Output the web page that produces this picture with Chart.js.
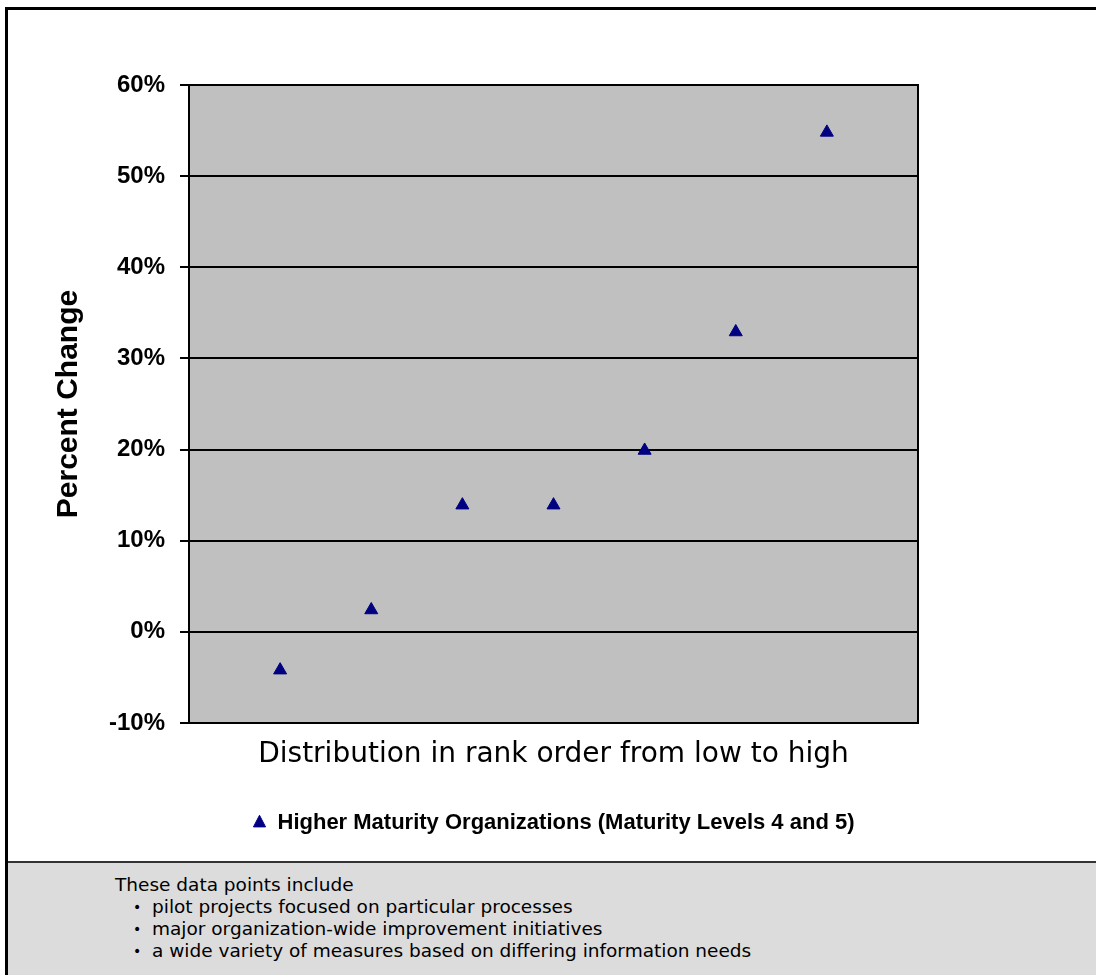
<!DOCTYPE html>
<html>
<head>
<meta charset="utf-8">
<script src="https://cdn.jsdelivr.net/npm/chart.js@4.4.1/dist/chart.umd.min.js"></script>
<style>
  html, body { margin: 0; padding: 0; background: #ffffff; }
  body { width: 1096px; height: 975px; position: relative; overflow: hidden; }
  #frame { position: absolute; left: 5px; top: 7px; width: 1091px; height: 968px;
           border-top: 3px solid #000; border-left: 3px solid #000; box-sizing: border-box; }
  #wrap { position: absolute; left: 0; top: 0; width: 1096px; height: 862px; }
  #note { position: absolute; left: 8px; top: 861px; width: 1088px; height: 114px;
          background: #dcdcdc; border-top: 2px solid #333; box-sizing: border-box;
          font-family: "DejaVu Sans", Verdana, sans-serif; font-size: 18.5px; color: #000; }
  .ln { position: absolute; height: 22px; line-height: 22px; white-space: nowrap; }
  .bul { position: absolute; left: 125px; font-size: 14px; }
  .txt { position: absolute; left: 144px; }
</style>
</head>
<body>
<div id="frame"></div>
<div id="wrap"><canvas id="c" width="1096" height="862"></canvas></div>
<div id="note">
  <div class="ln" style="left:107px; top:11px;">These data points include</div>
  <div class="ln" style="left:0; top:33px; width:1000px;"><span class="bul">•</span><span class="txt">pilot projects focused on particular processes</span></div>
  <div class="ln" style="left:0; top:55px; width:1000px;"><span class="bul">•</span><span class="txt">major organization-wide improvement initiatives</span></div>
  <div class="ln" style="left:0; top:77px; width:1000px;"><span class="bul">•</span><span class="txt">a wide variety of measures based on differing information needs</span></div>
</div>
<script>
// ---- data ----
const ranks = [1, 2, 3, 4, 5, 6, 7];
const percentChange = [-4.2, 2.4, 13.9, 13.9, 19.9, 32.9, 54.8];
const seriesLabel = 'Higher Maturity Organizations (Maturity Levels 4 and 5)';
const yTickMin = -10;
const yTickMax = 60;
const yTickStep = 10;
const xTitle = 'Distribution in rank order from low to high';
const yTitle = 'Percent Change';

const points = ranks.map((r, i) => ({ x: r, y: percentChange[i] }));

const plotBg = {
  id: 'plotBg',
  beforeDraw(chart) {
    const { ctx, chartArea: a } = chart;
    ctx.save();
    ctx.fillStyle = '#c0c0c0';
    ctx.fillRect(a.left, a.top, a.right - a.left, a.bottom - a.top);
    ctx.restore();
  },
  beforeDatasetsDraw(chart) {
    const { ctx, chartArea: a } = chart;
    ctx.save();
    ctx.strokeStyle = '#000';
    ctx.lineWidth = 2;
    ctx.strokeRect(a.left, a.top, a.right - a.left, a.bottom - a.top);
    ctx.restore();
  }
};

new Chart(document.getElementById('c'), {
  type: 'scatter',
  data: {
    datasets: [{
      label: seriesLabel,
      data: points,
      pointStyle: 'triangle',
      pointRadius: 7.5,
      pointHoverRadius: 7.5,
      pointBorderWidth: 1,
      backgroundColor: '#000080',
      borderColor: '#000080'
    }]
  },
  options: {
    responsive: false,
    animation: false,
    devicePixelRatio: 1,
    layout: { padding: { top: 85, right: 178, left: 0, bottom: 18 } },
    plugins: {
      tooltip: { enabled: false },
      legend: {
        position: 'bottom',
        fullSize: false,
        labels: {
          usePointStyle: true,
          pointStyleWidth: 14,
          boxHeight: 11,
          padding: 10,
          color: '#000',
          font: { family: '"Liberation Sans", Arial, sans-serif', size: 22, weight: 'bold' }
        }
      }
    },
    scales: {
      x: {
        type: 'linear',
        min: 0,
        max: 8,
        grid: { display: false, drawTicks: false },
        border: { display: false },
        ticks: { display: false },
        title: {
          display: true,
          text: xTitle,
          color: '#000',
          font: { family: '"DejaVu Sans", Verdana, sans-serif', size: 28, weight: 'normal', lineHeight: 1.2 },
          padding: { top: 15, bottom: 30 }
        },
        afterFit(scale) { scale.height = 79; }
      },
      y: {
        min: yTickMin,
        max: yTickMax,
        ticks: {
          stepSize: yTickStep,
          color: '#000',
          padding: 15,
          font: { family: '"Liberation Sans", Arial, sans-serif', size: 24, weight: 'bold' },
          callback: v => v + '%'
        },
        grid: { color: '#000', lineWidth: 2, tickLength: 9, drawTicks: true },
        border: { display: true, color: '#000', width: 2 },
        title: {
          display: true,
          text: yTitle,
          color: '#000',
          font: { family: '"Liberation Sans", Arial, sans-serif', size: 30, weight: 'bold', lineHeight: 1.2 },
          padding: { top: 51, bottom: 0 }
        },
        afterFit(scale) { scale.width = 189; }
      }
    }
  },
  plugins: [plotBg]
});
</script>
</body>
</html>
